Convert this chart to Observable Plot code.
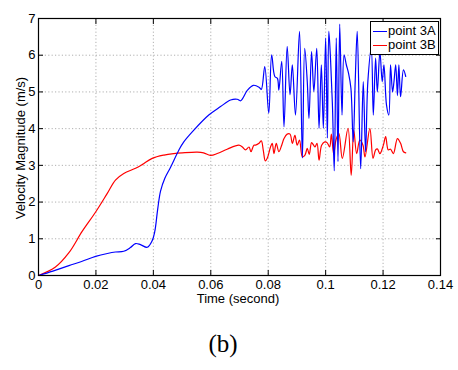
<!DOCTYPE html>
<html>
<head>
<meta charset="utf-8">
<script src="https://cdn.jsdelivr.net/npm/d3@7"></script>
<script src="https://cdn.jsdelivr.net/npm/@observablehq/plot@0.6"></script>
<style>
  html, body { margin: 0; padding: 0; background: #fff; }
  #wrap { position: relative; width: 458px; height: 370px; font-family: "Liberation Sans", Arial, sans-serif; }
  .lbl { position: absolute; font-size: 13px; color: #000; white-space: nowrap; line-height: 1; }
  #legend { position: absolute; left: 370px; top: 21px; width: 67px; height: 32px; border: 1px solid #000; background: #fff; }
  .lrow { position: absolute; left: 0; width: 67px; height: 14px; font-size: 13px; line-height: 14px; white-space: nowrap; }
  .lline { position: absolute; left: 2px; top: 7px; width: 14px; height: 0; border-top: 1.2px solid; }
  .ltext { position: absolute; left: 17px; top: 0; white-space: nowrap; }
</style>
</head>
<body>
<div id="wrap">
  <div id="chart"></div>
  <div class="lbl" id="xlabel" style="left:238px; top:292px; transform:translateX(-50%);">Time (second)</div>
  <div class="lbl" id="ylabel" style="left:20px; top:148px; transform:translate(-50%,-50%) rotate(-90deg);">Velocity Magnitude (m/s)</div>
  <div id="legend">
    <div class="lrow" style="top:2px;"><div class="lline" style="border-color:#0000ff;"></div><div class="ltext">point 3A</div></div>
    <div class="lrow" style="top:16px;"><div class="lline" style="border-color:#ff0000;"></div><div class="ltext">point 3B</div></div>
  </div>
  <div class="lbl" style="left:223px; top:343px; transform:translate(-50%,-50%); font-family:'Liberation Serif','DejaVu Serif',serif; font-size:25px;">(b)</div>
</div>
<script>
// point 3A (blue)
const t3A = [0, 0.005, 0.0106, 0.015, 0.0199, 0.024, 0.0268, 0.0297, 0.032, 0.0338, 0.0355, 0.0379, 0.0396, 0.0405, 0.0415, 0.0425, 0.044, 0.046, 0.0489, 0.0506, 0.0541, 0.0593, 0.0634, 0.0669, 0.0692, 0.0704, 0.0727, 0.0748, 0.0768, 0.0776,
  0.0788, 0.0802, 0.0812, 0.0823, 0.0832, 0.0837, 0.0847, 0.0855, 0.0866, 0.0876, 0.0884, 0.0895, 0.0909, 0.0919, 0.0927, 0.0936, 0.0942, 0.0951, 0.0959, 0.0969, 0.0977, 0.0985, 0.0992, 0.1000, 0.1006, 0.1011,
  0.1017, 0.1024, 0.1030, 0.1037, 0.1043, 0.1049, 0.1057, 0.1064, 0.1072, 0.1080, 0.1088, 0.1096, 0.1103, 0.1110, 0.1122, 0.1131, 0.1139, 0.1147, 0.1159, 0.1166, 0.1174, 0.1180, 0.1189, 0.1197, 0.1203, 0.1212, 0.1220, 0.1226, 0.1233, 0.1238, 0.1244, 0.1250, 0.1255, 0.1261, 0.1271, 0.1279];
const v3A = [0, 0.12, 0.27, 0.38, 0.52, 0.60, 0.64, 0.66, 0.76, 0.87, 0.84, 0.77, 0.95, 1.2, 1.8, 2.3, 2.65, 2.95, 3.42, 3.64, 3.96, 4.37, 4.6, 4.78, 4.80, 4.76, 5.04, 5.18, 5.13, 5.07,
  5.69, 4.42, 6.01, 5.42, 5.37, 5.05, 5.83, 4.05, 6.24, 4.92, 5.74, 4.37, 6.65, 3.2, 6.19, 5.28, 4.28, 6.10, 5.01, 6.19, 4.01, 5.74, 4.01, 6.47, 3.74, 6.65,
  5.9, 4.55, 2.85, 6.47, 3.1, 6.85, 4.37, 6.01, 5.74, 5.5, 5.1, 3.64, 5.3, 6.65, 2.91, 5.28, 3.37, 5.28, 6.19, 4.37, 5.92, 5.0, 6.1, 5.28, 5.74, 4.64, 4.37, 5.74, 5.0, 5.28, 5.74, 4.9, 5.74, 4.87, 5.6, 5.42];

// point 3B (red)
const t3B = [0, 0.0059, 0.0106, 0.0152, 0.0199, 0.0239, 0.0268, 0.0297, 0.0338, 0.0361, 0.0396, 0.0437, 0.0471, 0.0501, 0.0553, 0.0575, 0.0599, 0.0625, 0.0657, 0.0698, 0.0710, 0.0721, 0.0733, 0.0740, 0.0750, 0.0756, 0.0768, 0.0776,
  0.0783, 0.0790, 0.0797, 0.0808, 0.0814, 0.0820, 0.0828, 0.0837, 0.0847, 0.0855, 0.0866, 0.0876, 0.0884, 0.0893, 0.0901, 0.0909, 0.0919, 0.0928, 0.0936, 0.0943, 0.0951, 0.0958, 0.0963, 0.0970, 0.0977, 0.0986, 0.0997, 0.1005,
  0.1014, 0.1020, 0.1028, 0.1036, 0.1046, 0.1058, 0.1078, 0.1089, 0.1098, 0.1108, 0.1119, 0.1130, 0.1137, 0.1154, 0.1165, 0.1174, 0.1180, 0.1189, 0.1201, 0.1209, 0.1218, 0.1226, 0.1236, 0.1250, 0.1261, 0.1271, 0.1279];
const v3B = [0, 0.23, 0.62, 1.2, 1.73, 2.23, 2.6, 2.78, 2.92, 3.02, 3.19, 3.28, 3.32, 3.34, 3.36, 3.34, 3.27, 3.33, 3.44, 3.55, 3.5, 3.42, 3.5, 3.37, 3.55, 3.55, 3.6, 3.67,
  3.4, 3.12, 3.2, 3.5, 3.6, 3.32, 3.6, 3.37, 3.55, 3.73, 3.85, 3.85, 3.6, 3.82, 3.55, 3.69, 3.23, 3.28, 3.46, 3.3, 3.62, 3.55, 3.5, 3.6, 3.14, 3.55, 3.64, 3.62,
  3.5, 3.85, 3.3, 3.69, 3.87, 3.19, 4.01, 2.73, 3.96, 3.32, 3.69, 3.55, 3.23, 4.01, 3.19, 3.42, 3.45, 3.32, 3.55, 3.78, 3.42, 3.44, 3.32, 3.73, 3.6, 3.37, 3.34];

const xTicks = [0, 0.02, 0.04, 0.06, 0.08, 0.1, 0.12, 0.14];
const yTicks = [0, 1, 2, 3, 4, 5, 6, 7];

const dataA = t3A.map((t, i) => ({t, v: v3A[i]}));
const dataB = t3B.map((t, i) => ({t, v: v3B[i]}));
const fmt = d => String(+d.toFixed(2));
const blank = () => "";

const chart = Plot.plot({
  width: 458,
  height: 300,
  marginLeft: 38,
  marginRight: 18,
  marginTop: 18,
  marginBottom: 25,
  style: {fontFamily: "'Liberation Sans', Arial, sans-serif", fontSize: "13px", color: "#000", background: "transparent"},
  x: {domain: [0, 0.14]},
  y: {domain: [0, 7]},
  marks: [
    Plot.gridX(xTicks, {stroke: "#b0b0b0", strokeOpacity: 1, strokeDasharray: "1.2,2.2"}),
    Plot.gridY(yTicks, {stroke: "#b0b0b0", strokeOpacity: 1, strokeDasharray: "1.2,2.2"}),
    Plot.line(dataB, {x: "t", y: "v", stroke: "#ff0000", strokeWidth: 1.2, curve: "catmull-rom"}),
    Plot.line(dataA, {x: "t", y: "v", stroke: "#0000ff", strokeWidth: 1.2, curve: "catmull-rom"}),
    Plot.axisX(xTicks, {anchor: "bottom", tickSize: 0, tickPadding: 4, tickFormat: fmt, label: null}),
    Plot.axisX(xTicks, {anchor: "bottom", tickSize: -5, tickFormat: blank, label: null}),
    Plot.axisX(xTicks, {anchor: "top", tickSize: -5, tickFormat: blank, label: null}),
    Plot.axisY(yTicks, {anchor: "left", tickSize: 0, tickPadding: 3, tickFormat: d => String(d), label: null}),
    Plot.axisY(yTicks, {anchor: "left", tickSize: -5, tickFormat: blank, label: null}),
    Plot.axisY(yTicks, {anchor: "right", tickSize: -5, tickFormat: blank, label: null}),
    Plot.frame({stroke: "#000", strokeWidth: 1.2})
  ]
});
document.getElementById("chart").appendChild(chart);
</script>
</body>
</html>
